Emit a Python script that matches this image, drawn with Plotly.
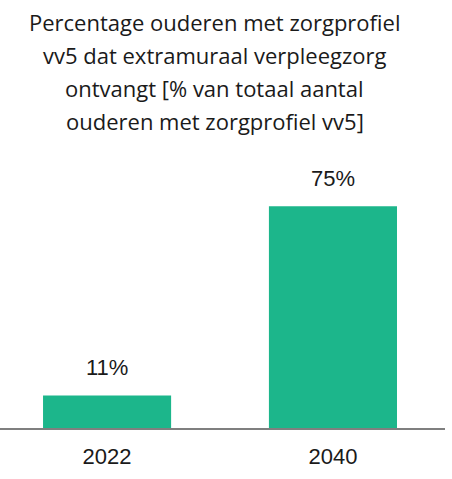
import plotly.graph_objects as go

categories = ["2022", "2040"]
values = [11, 75]
value_labels = ["11%", "75%"]
title_lines = [
    "Percentage ouderen met zorgprofiel",
    "vv5 dat extramuraal verpleegzorg",
    "ontvangt [% van totaal aantal",
    "ouderen met zorgprofiel vv5]",
]

GREEN = "#1CB68B"
TEXT = "#1a1a1a"
W, H = 452, 479
ML, MR, MT, MB = 0, 7, 190, 51
PW, PH = W - ML - MR, H - MT - MB

fig = go.Figure()
fig.add_trace(go.Bar(
    x=categories, y=values, marker=dict(color=GREEN, line=dict(width=0)),
    width=0.567, hoverinfo="skip",
))

for i, (v, lab) in enumerate(zip(values, value_labels)):
    fig.add_annotation(x=i, y=v, xref="x", yref="y", text=lab, showarrow=False,
                       yanchor="bottom", yshift=13,
                       font=dict(family="Liberation Sans", size=22, color=TEXT))

line_y = [22, 55, 88, 121]
for t, yy in zip(title_lines, line_y):
    fig.add_annotation(x=(214.5 - ML) / PW, y=(H - MB - yy) / PH, xref="paper", yref="paper",
                       text=t, showarrow=False, xanchor="center", yanchor="middle",
                       font=dict(family="Open Sans", size=22, color=TEXT))

fig.update_layout(
    width=W, height=H,
    margin=dict(l=ML, r=MR, t=MT, b=MB, autoexpand=False),
    paper_bgcolor="white", plot_bgcolor="white",
    showlegend=False,
    xaxis=dict(type="category", range=[-0.474, 1.496], showgrid=False,
               showline=True, linecolor="#7f7f7f", linewidth=2,
               ticks="", ticklabelstandoff=8, automargin=False,
               tickfont=dict(family="Liberation Sans", size=22, color=TEXT)),
    yaxis=dict(range=[0, 80.5], visible=False, showgrid=False, zeroline=False,
               automargin=False),
)

fig.write_html("out.html", config={"displayModeBar": False},
               post_script="document.body.style.margin='0';")
